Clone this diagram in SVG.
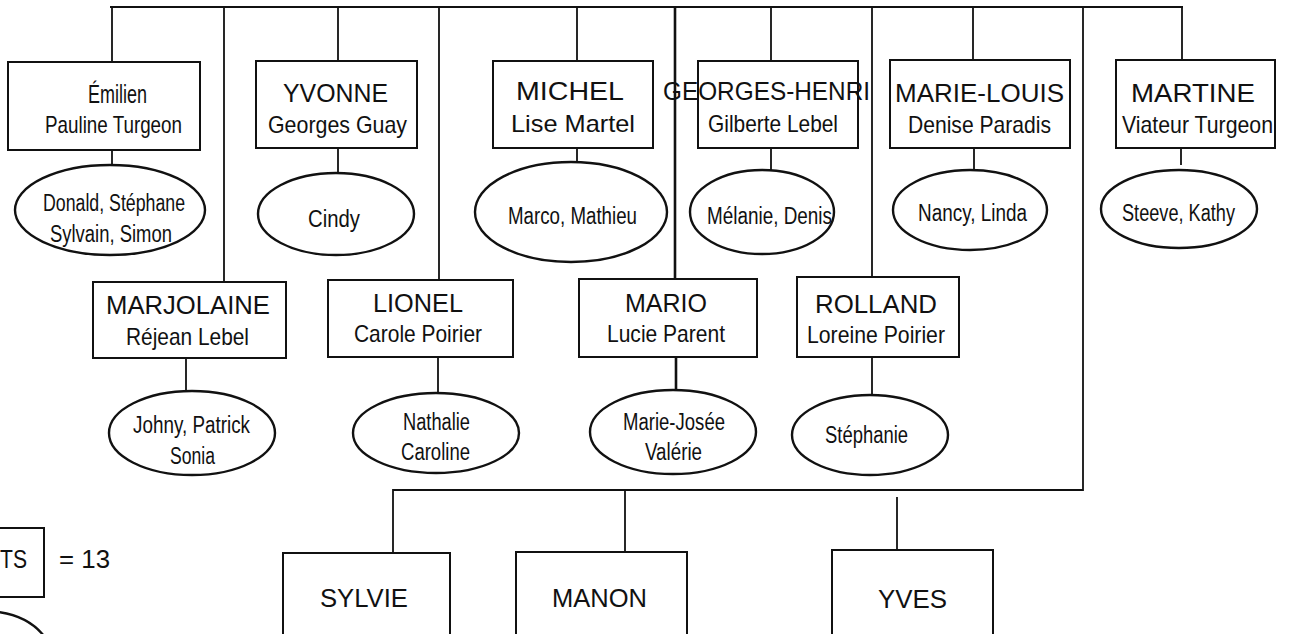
<svg xmlns="http://www.w3.org/2000/svg" width="1291" height="634" viewBox="0 0 1291 634">
<style>
  .bg{fill:#fff}
  .box{fill:#fff;stroke:#111;stroke-width:2}
  .ell{fill:#fff;stroke:#111;stroke-width:2.4}
  .ln{stroke:#111;stroke-width:1.8;fill:none}
  .lnb{stroke:#111;stroke-width:2.6;fill:none}
  text{font-family:"Liberation Sans",Arial,Helvetica,sans-serif;fill:#111}
  .cap{font-size:25px}
  .sub{font-size:24px}
  .kid{font-size:23px}
</style>
<rect class="bg" x="0" y="0" width="1291" height="634"/>
<g id="connectors">
  <path class="ln" d="M110 7 H1183"/>
  <path class="ln" d="M112 7 V62 M112 150 V165"/>
  <path class="ln" d="M224 7 V282 M186 358 V392"/>
  <path class="ln" d="M338 7 V61 M338 148 V173"/>
  <path class="ln" d="M439 7 V280 M438 357 V393"/>
  <path class="ln" d="M577 7 V61 M577 148 V162"/>
  <path class="lnb" d="M675 7 V279 M676 357 V390"/>
  <path class="ln" d="M771 7 V61 M771 148 V170"/>
  <path class="ln" d="M872 7 V277 M872 357 V395"/>
  <path class="ln" d="M973 7 V60 M974 148 V170"/>
  <path class="ln" d="M1083 7 V490 H393 V553"/>
  <path class="ln" d="M1182 7 V60 M1181 148 V165"/>
  <path class="ln" d="M625 490 V552"/>
  <path class="ln" d="M897 497 V550"/>
</g>
<g id="emilien">
  <rect class="box" x="8" y="62" width="192" height="88"/>
  <text class="cap" x="88" y="103" textLength="59" lengthAdjust="spacingAndGlyphs">Émilien</text>
  <text class="sub" x="45" y="133" textLength="137" lengthAdjust="spacingAndGlyphs">Pauline Turgeon</text>
</g>
<g id="emilien-kids">
  <ellipse class="ell" cx="110" cy="210" rx="95" ry="45"/>
  <text class="kid" x="43" y="211" textLength="142" lengthAdjust="spacingAndGlyphs">Donald, Stéphane</text>
  <text class="kid" x="50" y="242" textLength="122" lengthAdjust="spacingAndGlyphs">Sylvain, Simon</text>
</g>
<g id="yvonne">
  <rect class="box" x="256" y="61" width="161" height="87"/>
  <text class="cap" x="283" y="102" textLength="105" lengthAdjust="spacingAndGlyphs">YVONNE</text>
  <text class="sub" x="268" y="133" textLength="139" lengthAdjust="spacingAndGlyphs">Georges Guay</text>
</g>
<g id="yvonne-kids">
  <ellipse class="ell" cx="336" cy="214" rx="78" ry="41"/>
  <text class="kid" x="308" y="227" textLength="52" lengthAdjust="spacingAndGlyphs">Cindy</text>
</g>
<g id="michel">
  <rect class="box" x="493" y="61" width="160" height="87"/>
  <text class="cap" x="516" y="100" textLength="108" lengthAdjust="spacingAndGlyphs">MICHEL</text>
  <text class="sub" x="511" y="132" textLength="124" lengthAdjust="spacingAndGlyphs">Lise Martel</text>
</g>
<g id="michel-kids">
  <ellipse class="ell" cx="571" cy="212" rx="96" ry="50"/>
  <text class="kid" x="508" y="224" textLength="129" lengthAdjust="spacingAndGlyphs">Marco, Mathieu</text>
</g>
<g id="georges-henri">
  <rect class="box" x="698" y="61" width="160" height="87"/>
  <text class="cap" x="663" y="100" textLength="207" lengthAdjust="spacingAndGlyphs">GEORGES-HENRI</text>
  <text class="sub" x="708" y="132" textLength="130" lengthAdjust="spacingAndGlyphs">Gilberte Lebel</text>
</g>
<g id="georges-henri-kids">
  <ellipse class="ell" cx="762" cy="212" rx="72" ry="42"/>
  <text class="kid" x="707" y="224" textLength="125" lengthAdjust="spacingAndGlyphs">Mélanie, Denis</text>
</g>
<g id="marie-louis">
  <rect class="box" x="890" y="60" width="180" height="88"/>
  <text class="cap" x="895" y="102" textLength="169" lengthAdjust="spacingAndGlyphs">MARIE-LOUIS</text>
  <text class="sub" x="908" y="133" textLength="143" lengthAdjust="spacingAndGlyphs">Denise Paradis</text>
</g>
<g id="marie-louis-kids">
  <ellipse class="ell" cx="970" cy="210" rx="77" ry="40"/>
  <text class="kid" x="918" y="221" textLength="109" lengthAdjust="spacingAndGlyphs">Nancy, Linda</text>
</g>
<g id="martine">
  <rect class="box" x="1116" y="60" width="159" height="88"/>
  <text class="cap" x="1131" y="102" textLength="124" lengthAdjust="spacingAndGlyphs">MARTINE</text>
  <text class="sub" x="1122" y="133" textLength="151" lengthAdjust="spacingAndGlyphs">Viateur Turgeon</text>
</g>
<g id="martine-kids">
  <ellipse class="ell" cx="1179" cy="209" rx="78" ry="39"/>
  <text class="kid" x="1122" y="221" textLength="113" lengthAdjust="spacingAndGlyphs">Steeve, Kathy</text>
</g>
<g id="marjolaine">
  <rect class="box" x="93" y="282" width="193" height="76"/>
  <text class="cap" x="106" y="314" textLength="164" lengthAdjust="spacingAndGlyphs">MARJOLAINE</text>
  <text class="sub" x="126" y="345" textLength="123" lengthAdjust="spacingAndGlyphs">Réjean Lebel</text>
</g>
<g id="marjolaine-kids">
  <ellipse class="ell" cx="192" cy="433" rx="83" ry="42"/>
  <text class="kid" x="133" y="433" textLength="117" lengthAdjust="spacingAndGlyphs">Johny, Patrick</text>
  <text class="kid" x="170" y="464" textLength="45" lengthAdjust="spacingAndGlyphs">Sonia</text>
</g>
<g id="lionel">
  <rect class="box" x="328" y="280" width="185" height="77"/>
  <text class="cap" x="373" y="312" textLength="90" lengthAdjust="spacingAndGlyphs">LIONEL</text>
  <text class="sub" x="354" y="342" textLength="128" lengthAdjust="spacingAndGlyphs">Carole Poirier</text>
</g>
<g id="lionel-kids">
  <ellipse class="ell" cx="436" cy="433" rx="83" ry="40"/>
  <text class="kid" x="403" y="430" textLength="67" lengthAdjust="spacingAndGlyphs">Nathalie</text>
  <text class="kid" x="401" y="460" textLength="69" lengthAdjust="spacingAndGlyphs">Caroline</text>
</g>
<g id="mario">
  <rect class="box" x="579" y="279" width="178" height="78"/>
  <text class="cap" x="625" y="312" textLength="82" lengthAdjust="spacingAndGlyphs">MARIO</text>
  <text class="sub" x="607" y="342" textLength="118" lengthAdjust="spacingAndGlyphs">Lucie Parent</text>
</g>
<g id="mario-kids">
  <ellipse class="ell" cx="673" cy="432" rx="83" ry="42"/>
  <text class="kid" x="623" y="430" textLength="102" lengthAdjust="spacingAndGlyphs">Marie-Josée</text>
  <text class="kid" x="645" y="460" textLength="57" lengthAdjust="spacingAndGlyphs">Valérie</text>
</g>
<g id="rolland">
  <rect class="box" x="797" y="277" width="162" height="80"/>
  <text class="cap" x="815" y="313" textLength="122" lengthAdjust="spacingAndGlyphs">ROLLAND</text>
  <text class="sub" x="807" y="343" textLength="138" lengthAdjust="spacingAndGlyphs">Loreine Poirier</text>
</g>
<g id="rolland-kids">
  <ellipse class="ell" cx="870" cy="435" rx="78" ry="40"/>
  <text class="kid" x="825" y="443" textLength="83" lengthAdjust="spacingAndGlyphs">Stéphanie</text>
</g>
<g id="sylvie">
  <rect class="box" x="283" y="553" width="167" height="90"/>
  <text class="cap" x="320" y="607" textLength="88" lengthAdjust="spacingAndGlyphs">SYLVIE</text>
</g>
<g id="manon">
  <rect class="box" x="516" y="552" width="171" height="90"/>
  <text class="cap" x="552" y="607" textLength="95" lengthAdjust="spacingAndGlyphs">MANON</text>
</g>
<g id="yves">
  <rect class="box" x="832" y="550" width="161" height="92"/>
  <text class="cap" x="878" y="608" textLength="69" lengthAdjust="spacingAndGlyphs">YVES</text>
</g>
<g id="legend">
  <rect class="box" x="-10" y="528" width="54" height="69"/>
  <text class="cap" x="0" y="568" textLength="27" lengthAdjust="spacingAndGlyphs">TS</text>
  <text class="cap" x="59" y="568" textLength="51" lengthAdjust="spacingAndGlyphs">= 13</text>
  <path class="ell" d="M-2 612 Q28 616 44 636" fill="none"/>
</g>
</svg>
